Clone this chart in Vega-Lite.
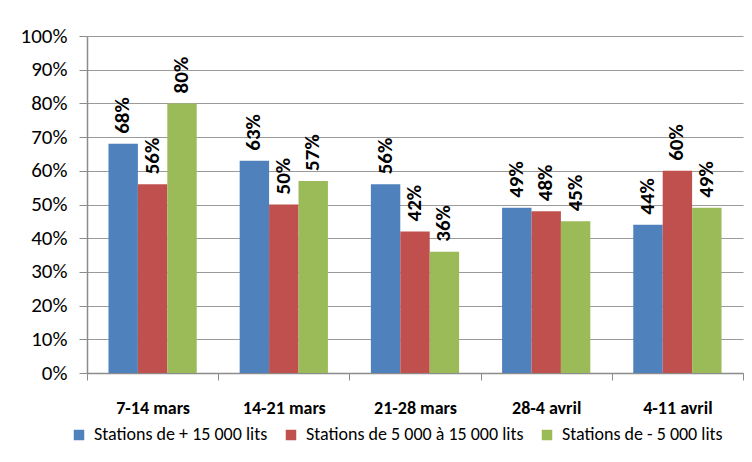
{
  "$schema": "https://vega.github.io/schema/vega-lite/v6.json",
  "width": 656,
  "height": 337,
  "autosize": "none",
  "padding": {"left": 87, "top": 36, "right": 9, "bottom": 89},
  "background": "white",
  "config": {
    "font": "Carlito, Lato, sans-serif",
    "view": {"stroke": null}
  },
  "data": {
    "values": [
      {"periode": "7-14 mars", "serie": "Stations de + 15 000 lits", "valeur": 0.68},
      {"periode": "7-14 mars", "serie": "Stations de 5 000 à 15 000 lits", "valeur": 0.56},
      {"periode": "7-14 mars", "serie": "Stations de - 5 000 lits", "valeur": 0.80},
      {"periode": "14-21 mars", "serie": "Stations de + 15 000 lits", "valeur": 0.63},
      {"periode": "14-21 mars", "serie": "Stations de 5 000 à 15 000 lits", "valeur": 0.50},
      {"periode": "14-21 mars", "serie": "Stations de - 5 000 lits", "valeur": 0.57},
      {"periode": "21-28 mars", "serie": "Stations de + 15 000 lits", "valeur": 0.56},
      {"periode": "21-28 mars", "serie": "Stations de 5 000 à 15 000 lits", "valeur": 0.42},
      {"periode": "21-28 mars", "serie": "Stations de - 5 000 lits", "valeur": 0.36},
      {"periode": "28-4 avril", "serie": "Stations de + 15 000 lits", "valeur": 0.49},
      {"periode": "28-4 avril", "serie": "Stations de 5 000 à 15 000 lits", "valeur": 0.48},
      {"periode": "28-4 avril", "serie": "Stations de - 5 000 lits", "valeur": 0.45},
      {"periode": "4-11 avril", "serie": "Stations de + 15 000 lits", "valeur": 0.44},
      {"periode": "4-11 avril", "serie": "Stations de 5 000 à 15 000 lits", "valeur": 0.60},
      {"periode": "4-11 avril", "serie": "Stations de - 5 000 lits", "valeur": 0.49}
    ]
  },
  "encoding": {
    "x": {
      "field": "periode",
      "type": "nominal",
      "sort": ["7-14 mars", "14-21 mars", "21-28 mars", "28-4 avril", "4-11 avril"],
      "scale": {"paddingInner": 0, "paddingOuter": 0},
      "axis": {
        "title": null,
        "labelAngle": 0,
        "labelFontWeight": "bold",
        "labelFontSize": 18,
        "labelColor": "#000000",
        "tickBand": "extent",
        "tickSize": 7,
        "labelPadding": 19,
        "domainColor": "#8c8c8c",
        "tickColor": "#8c8c8c",
        "domainWidth": 1.5,
        "grid": false
      }
    },
    "xOffset": {
      "field": "serie",
      "type": "nominal",
      "sort": ["Stations de + 15 000 lits", "Stations de 5 000 à 15 000 lits", "Stations de - 5 000 lits"],
      "scale": {"paddingInner": 0, "paddingOuter": 0.73}
    },
    "y": {
      "field": "valeur",
      "type": "quantitative",
      "scale": {"domain": [0, 1]},
      "axis": {
        "title": null,
        "values": [0, 0.1, 0.2, 0.3, 0.4, 0.5, 0.6, 0.7, 0.8, 0.9, 1],
        "format": ".0%",
        "labelFontSize": 21,
        "labelColor": "#000000",
        "tickSize": 8,
        "labelPadding": 12,
        "domainColor": "#8c8c8c",
        "tickColor": "#8c8c8c",
        "domainWidth": 1.5,
        "grid": true,
        "gridColor": "#9a9a9a",
        "gridWidth": 1.2
      }
    }
  },
  "layer": [
    {
      "mark": {"type": "bar"},
      "encoding": {
        "color": {
          "field": "serie",
          "type": "nominal",
          "sort": ["Stations de + 15 000 lits", "Stations de 5 000 à 15 000 lits", "Stations de - 5 000 lits"],
          "scale": {"range": ["#4F81BD", "#C0504D", "#9BBB59"]},
          "legend": {
            "title": null,
            "orient": "none",
            "direction": "horizontal",
            "legendX": -17,
            "legendY": 390,
            "symbolType": "square",
            "symbolSize": 110,
            "symbolStrokeWidth": 0,
            "symbolOpacity": 1,
            "labelFontSize": 18,
            "labelColor": "#000000",
            "labelOffset": 6,
            "columnPadding": 14,
            "labelLimit": 400
          }
        }
      }
    },
    {
      "mark": {
        "type": "text",
        "angle": 270,
        "align": "left",
        "baseline": "middle",
        "yOffset": -10,
        "fontWeight": "bold",
        "fontSize": 21,
        "color": "#000000"
      },
      "encoding": {
        "text": {"field": "valeur", "type": "quantitative", "format": ".0%"}
      }
    }
  ]
}
